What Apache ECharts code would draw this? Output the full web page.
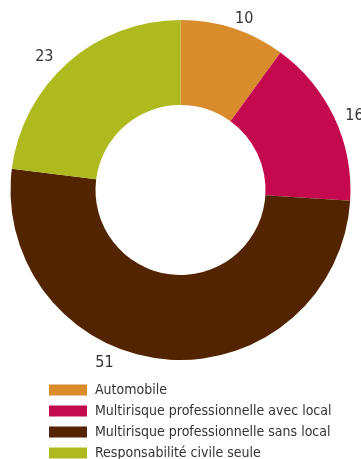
<!DOCTYPE html>
<html>
<head>
<meta charset="utf-8">
<script src="https://cdn.jsdelivr.net/npm/echarts@6/dist/echarts.min.js"></script>
<style>
html,body{margin:0;padding:0;background:#fff;}
#main{width:361px;height:459px;}
</style>
</head>
<body>
<div id="main"></div>
<script>
var categories = ['Automobile', 'Multirisque professionnelle avec local', 'Multirisque professionnelle sans local', 'Responsabilité civile seule'];
var values = [10, 16, 51, 23];
var colors = ['#D98C2B', '#C4094F', '#532400', '#AFBA1E'];
var labelShift = [[-6, 0], [-3, 2], [-45, -6], [-3, 2]];

var FONT = '"Liberation Sans Narrow", "DejaVu Sans Condensed", "Roboto", sans-serif';
var chart = echarts.init(document.getElementById('main'), null, {renderer: 'canvas'});
chart.setOption({
  animation: false,
  color: colors,
  legend: {
    orient: 'vertical',
    left: 49,
    top: 383,
    height: 120,
    itemWidth: 38,
    itemHeight: 11,
    itemGap: 7,
    icon: 'rect',
    padding: 0,
    textStyle: {fontFamily: FONT, fontSize: 14, color: '#333', lineHeight: 11, padding: [0, 0, 0, 3]},
    data: categories
  },
  series: [{
    type: 'pie',
    center: [180.5, 190],
    radius: [85, 170],
    startAngle: 90,
    clockwise: true,
    avoidLabelOverlap: false,
    data: categories.map(function (c, i) { return {name: c, value: values[i]}; }),
    label: {
      show: true,
      position: 'outside',
      formatter: '{c}',
      fontFamily: FONT,
      fontSize: 16,
      color: '#333'
    },
    labelLine: {show: false, length: 10, length2: 0},
    labelLayout: function (p) {
      return {dx: labelShift[p.dataIndex][0], dy: labelShift[p.dataIndex][1]};
    },
    emphasis: {disabled: true}
  }]
});
</script>
</body>
</html>
